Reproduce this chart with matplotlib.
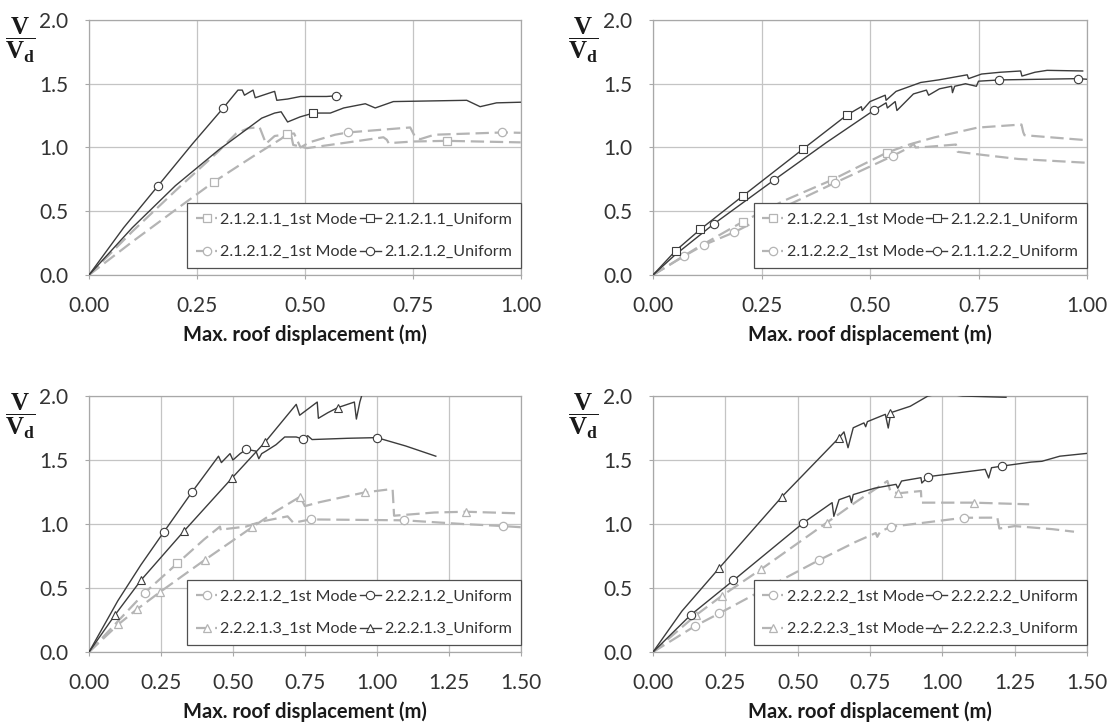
import matplotlib
matplotlib.use("Agg")
import matplotlib.pyplot as plt
from matplotlib.lines import Line2D
from matplotlib.ticker import FormatStrFormatter

# ---- panel 1 (top left) ----
P1_MODE_A_X = [0, 0.1, 0.2, 0.289, 0.38, 0.446, 0.459, 0.468, 0.473, 0.505, 0.6, 0.682, 0.69, 0.694, 0.752, 0.829, 1.0]
P1_MODE_A_Y = [0, 0.26, 0.51, 0.73, 0.93, 1.07, 1.108, 1.10, 1.02, 0.995, 1.04, 1.08, 1.06, 1.034, 1.047, 1.052, 1.04]
P1_MODE_A_MX = [0.289, 0.459, 0.829]
P1_MODE_A_MY = [0.73, 1.108, 1.052]

P1_UNIF_A_X = [0, 0.1, 0.2, 0.3, 0.4, 0.43, 0.445, 0.46, 0.489, 0.52, 0.559, 0.59, 0.64, 0.663, 0.705, 0.875, 0.906, 0.944, 1.0]
P1_UNIF_A_Y = [0, 0.37, 0.70, 0.98, 1.23, 1.27, 1.28, 1.20, 1.24, 1.27, 1.27, 1.31, 1.343, 1.31, 1.36, 1.37, 1.32, 1.35, 1.355]
P1_UNIF_A_MX = [0.52]
P1_UNIF_A_MY = [1.27]

P1_MODE_B_X = [0, 0.1, 0.2, 0.3, 0.341, 0.368, 0.395, 0.41, 0.43, 0.45, 0.475, 0.49, 0.51, 0.57, 0.6, 0.744, 0.755, 0.767, 0.8, 0.96, 1.0]
P1_MODE_B_Y = [0, 0.34, 0.66, 0.97, 1.11, 1.15, 1.16, 1.03, 1.09, 1.10, 1.11, 1.00, 1.04, 1.10, 1.118, 1.157, 1.086, 1.065, 1.10, 1.118, 1.115]
P1_MODE_B_MX = [0.6, 0.957]
P1_MODE_B_MY = [1.118, 1.118]

P1_UNIF_B_X = [0, 0.08, 0.16, 0.24, 0.311, 0.345, 0.355, 0.36, 0.375, 0.38, 0.385, 0.425, 0.43, 0.435, 0.46, 0.49, 0.55, 0.573, 0.585]
P1_UNIF_B_Y = [0, 0.37, 0.70, 1.03, 1.31, 1.45, 1.45, 1.41, 1.44, 1.45, 1.39, 1.435, 1.44, 1.37, 1.38, 1.40, 1.40, 1.405, 1.405]
P1_UNIF_B_MX = [0.16, 0.311, 0.573]
P1_UNIF_B_MY = [0.70, 1.31, 1.405]

P1_LABELS = ["2.1.2.1.1_1st Mode", "2.1.2.1.1_Uniform", "2.1.2.1.2_1st Mode", "2.1.2.1.2_Uniform"]

# ---- panel 2 (top right) ----
P2_MODE_A_X = [0, 0.1, 0.207, 0.3, 0.412, 0.539, 0.593, 0.647, 0.748, 0.849, 0.853, 0.856, 1.0]
P2_MODE_A_Y = [0, 0.21, 0.418, 0.58, 0.745, 0.96, 1.026, 1.078, 1.156, 1.18, 1.12, 1.096, 1.057]
P2_MODE_A_MX = [0.207, 0.412, 0.539]
P2_MODE_A_MY = [0.418, 0.745, 0.96]

P2_UNIF_A_X = [0, 0.052, 0.109, 0.207, 0.345, 0.447, 0.48, 0.482, 0.5, 0.535, 0.537, 0.56, 0.617, 0.658, 0.724, 0.727, 0.757, 0.8, 0.847, 0.85, 0.88, 0.908, 0.99]
P2_UNIF_A_Y = [0, 0.19, 0.358, 0.62, 0.986, 1.255, 1.32, 1.29, 1.36, 1.41, 1.37, 1.44, 1.51, 1.53, 1.57, 1.54, 1.576, 1.59, 1.60, 1.56, 1.59, 1.605, 1.60]
P2_UNIF_A_MX = [0.052, 0.109, 0.207, 0.345, 0.447]
P2_UNIF_A_MY = [0.19, 0.358, 0.62, 0.986, 1.255]

P2_MODE_B_X = [0, 0.072, 0.117, 0.187, 0.3, 0.42, 0.552, 0.593, 0.6, 0.605, 0.632, 0.698, 0.702, 0.764, 0.841, 1.0]
P2_MODE_B_Y = [0, 0.149, 0.235, 0.335, 0.53, 0.724, 0.933, 1.005, 1.03, 1.0, 1.005, 1.023, 0.966, 0.94, 0.91, 0.88]
P2_MODE_B_MX = [0.072, 0.117, 0.187, 0.42, 0.552]
P2_MODE_B_MY = [0.149, 0.235, 0.335, 0.724, 0.933]

P2_UNIF_B_X = [0, 0.05, 0.14, 0.279, 0.4, 0.51, 0.537, 0.54, 0.558, 0.562, 0.6, 0.63, 0.635, 0.66, 0.688, 0.69, 0.695, 0.72, 0.745, 0.75, 0.8, 0.98, 1.0]
P2_UNIF_B_Y = [0, 0.155, 0.40, 0.745, 1.04, 1.294, 1.35, 1.31, 1.36, 1.29, 1.42, 1.45, 1.41, 1.46, 1.48, 1.43, 1.48, 1.50, 1.48, 1.52, 1.53, 1.54, 1.535]
P2_UNIF_B_MX = [0.14, 0.279, 0.51, 0.798, 0.98]
P2_UNIF_B_MY = [0.40, 0.745, 1.294, 1.53, 1.54]

P2_LABELS = ["2.1.2.2.1_1st Mode", "2.1.2.2.1_Uniform", "2.1.2.2.2_1st Mode", "2.1.1.2.2_Uniform"]

# ---- panel 3 (bottom left) ----
P3_MODE_A_X = [0, 0.1, 0.194, 0.307, 0.4, 0.455, 0.458, 0.47, 0.545, 0.6, 0.69, 0.71, 0.77, 1.095, 1.3, 1.44, 1.5]
P3_MODE_A_Y = [0, 0.24, 0.464, 0.693, 0.88, 0.98, 0.95, 0.96, 0.98, 1.02, 1.06, 1.01, 1.036, 1.029, 1.0, 0.984, 0.975]
P3_MODE_A_MX = [0.194, 0.77, 1.095, 1.44]
P3_MODE_A_MY = [0.464, 1.036, 1.029, 0.984]
P3_STRAY_SQ_X = [0.307]
P3_STRAY_SQ_Y = [0.693]

P3_UNIF_A_X = [0, 0.05, 0.1, 0.18, 0.259, 0.357, 0.45, 0.46, 0.49, 0.5, 0.525, 0.547, 0.58, 0.59, 0.6, 0.615, 0.65, 0.68, 0.72, 0.743, 0.76, 0.775, 0.9, 1.0, 1.1, 1.205]
P3_UNIF_A_Y = [0, 0.2, 0.40, 0.68, 0.935, 1.247, 1.53, 1.48, 1.55, 1.50, 1.55, 1.583, 1.57, 1.51, 1.55, 1.57, 1.62, 1.68, 1.68, 1.664, 1.69, 1.66, 1.67, 1.675, 1.61, 1.53]
P3_UNIF_A_MX = [0.259, 0.357, 0.547, 0.743, 1.0]
P3_UNIF_A_MY = [0.935, 1.247, 1.583, 1.664, 1.675]

P3_MODE_B_X = [0, 0.102, 0.166, 0.248, 0.402, 0.568, 0.65, 0.734, 0.75, 0.8, 0.958, 1.04, 1.055, 1.06, 1.2, 1.31, 1.5]
P3_MODE_B_Y = [0, 0.216, 0.333, 0.471, 0.719, 0.977, 1.10, 1.214, 1.14, 1.17, 1.247, 1.27, 1.27, 1.065, 1.09, 1.096, 1.083]
P3_MODE_B_MX = [0.102, 0.166, 0.248, 0.402, 0.568, 0.734, 0.958, 1.31]
P3_MODE_B_MY = [0.216, 0.333, 0.471, 0.719, 0.977, 1.214, 1.247, 1.096]

P3_UNIF_B_X = [0, 0.09, 0.181, 0.33, 0.498, 0.613, 0.72, 0.732, 0.793, 0.797, 0.83, 0.864, 0.922, 0.929, 0.941, 0.955]
P3_UNIF_B_Y = [0, 0.289, 0.5625, 0.945, 1.362, 1.643, 1.935, 1.85, 1.953, 1.826, 1.87, 1.909, 1.953, 1.82, 1.953, 2.06]
P3_UNIF_B_MX = [0.09, 0.181, 0.33, 0.498, 0.613, 0.864]
P3_UNIF_B_MY = [0.289, 0.5625, 0.945, 1.362, 1.643, 1.909]

P3_LABELS = ["2.2.2.1.2_1st Mode", "2.2.2.1.2_Uniform", "2.2.2.1.3_1st Mode", "2.2.2.1.3_Uniform"]

# ---- panel 4 (bottom right) ----
P4_MODE_A_X = [0, 0.145, 0.229, 0.4, 0.572, 0.7, 0.77, 0.775, 0.785, 0.822, 0.9, 1.074, 1.19, 1.197, 1.25, 1.38, 1.455]
P4_MODE_A_Y = [0, 0.203, 0.302, 0.51, 0.716, 0.86, 0.93, 0.90, 0.94, 0.979, 1.0, 1.049, 1.05, 0.965, 0.984, 0.96, 0.94]
P4_MODE_A_MX = [0.145, 0.229, 0.572, 0.822, 1.074]
P4_MODE_A_MY = [0.203, 0.302, 0.716, 0.979, 1.049]

P4_UNIF_A_X = [0, 0.13, 0.278, 0.52, 0.619, 0.625, 0.643, 0.68, 0.686, 0.692, 0.766, 0.84, 0.846, 0.859, 0.926, 0.929, 0.951, 1.148, 1.16, 1.17, 1.207, 1.307, 1.344, 1.406, 1.5]
P4_UNIF_A_Y = [0, 0.289, 0.56, 1.01, 1.167, 1.06, 1.19, 1.22, 1.167, 1.23, 1.28, 1.31, 1.28, 1.336, 1.362, 1.32, 1.37, 1.427, 1.36, 1.44, 1.453, 1.484, 1.49, 1.53, 1.552]
P4_UNIF_A_MX = [0.13, 0.278, 0.52, 0.951, 1.207]
P4_UNIF_A_MY = [0.289, 0.56, 1.01, 1.37, 1.453]

P4_MODE_B_X = [0, 0.149, 0.237, 0.373, 0.6, 0.7, 0.81, 0.82, 0.846, 0.926, 0.928, 1.108, 1.3]
P4_MODE_B_Y = [0, 0.289, 0.4375, 0.646, 1.01, 1.17, 1.336, 1.258, 1.24, 1.258, 1.167, 1.167, 1.154]
P4_MODE_B_MX = [0.149, 0.237, 0.373, 0.6, 0.846, 1.108]
P4_MODE_B_MY = [0.289, 0.4375, 0.646, 1.01, 1.24, 1.167]

P4_UNIF_B_X = [0, 0.1, 0.228, 0.446, 0.643, 0.66, 0.674, 0.692, 0.729, 0.735, 0.741, 0.803, 0.813, 0.822, 0.889, 0.95, 1.0, 1.07, 1.22]
P4_UNIF_B_Y = [0, 0.32, 0.654, 1.214, 1.674, 1.72, 1.596, 1.752, 1.79, 1.76, 1.80, 1.857, 1.75, 1.87, 1.92, 2.0, 2.02, 2.0, 1.99]
P4_UNIF_B_MX = [0.228, 0.446, 0.643, 0.819]
P4_UNIF_B_MY = [0.654, 1.214, 1.674, 1.87]

P4_LABELS = ["2.2.2.2.2_1st Mode", "2.2.2.2.2_Uniform", "2.2.2.2.3_1st Mode", "2.2.2.2.3_Uniform"]

XTICKS_SHORT = [0.0, 0.25, 0.5, 0.75, 1.0]
XTICKS_LONG = [0.0, 0.25, 0.5, 0.75, 1.0, 1.25, 1.5]
YTICKS = [0.0, 0.5, 1.0, 1.5, 2.0]

DARK = "#3c3c3c"
GRAY = "#b4b4b4"
GRID = "#c4c4c4"

plt.rcParams.update({
    "font.family": ["Lato", "DejaVu Sans"],
    "mathtext.fontset": "custom",
    "mathtext.bf": "Liberation Serif:bold",
    "mathtext.rm": "Liberation Serif",
    "mathtext.it": "Liberation Serif:italic",
})


def style(kind, marker):
    if kind == "mode":
        return dict(color=GRAY, lw=1.6, ls=(0, (6, 2.6)), marker=marker,
                    mfc="white", mec=GRAY, mew=0.9, ms=6)
    return dict(color=DARK, lw=1.0, ls="-", marker=marker,
                mfc="white", mec=DARK, mew=0.8, ms=6)


def draw_panel(ax, series, labels, xticks, extra=None):
    handles = []
    # gray 1st-mode curves underneath, dark uniform curves on top
    for kind in ("mode", "unif"):
        for (x, y, mx, my, k, marker) in series:
            if k != kind:
                continue
            st = style(k, marker)
            ax.plot(x, y, color=st["color"], lw=st["lw"], ls=st["ls"], zorder=3 if k == "unif" else 2)
            ax.plot(mx, my, ls="none", marker=marker, ms=st["ms"], mfc="white",
                    mec=st["mec"], mew=st["mew"], zorder=4)
    if extra is not None:
        ex, ey, em = extra
        ax.plot(ex, ey, ls="none", marker=em, ms=6, mfc="white", mec=GRAY, mew=0.9, zorder=4)

    for (x, y, mx, my, k, marker), lab in zip(series, labels):
        st = style(k, marker)
        handles.append(Line2D([], [], label=lab, **st))
    # ncol=2 fills column-wise: reorder so rows read A, B
    order = [0, 2, 1, 3]
    leg = ax.legend([handles[i] for i in order], [labels[i] for i in order],
                    ncol=2, loc="lower right", bbox_to_anchor=(1.0, 0.027),
                    borderaxespad=0, fontsize=11.6, frameon=True, fancybox=False,
                    handlelength=1.3, handletextpad=0.2, columnspacing=0.15,
                    labelspacing=1.15, borderpad=0.55)
    leg.get_frame().set_edgecolor("#505050")
    leg.get_frame().set_linewidth(0.9)
    leg.get_frame().set_alpha(1)
    leg.set_zorder(5)
    for t in leg.get_texts():
        t.set_color("#333333")

    ax.set_xlim(xticks[0], xticks[-1])
    ax.set_ylim(0, 2.0)
    ax.set_xticks(xticks)
    ax.set_yticks(YTICKS)
    ax.xaxis.set_major_formatter(FormatStrFormatter("%.2f"))
    ax.yaxis.set_major_formatter(FormatStrFormatter("%.1f"))
    ax.grid(True, color=GRID, lw=0.9)
    ax.set_axisbelow(True)
    for s in ax.spines.values():
        s.set_color("#a8a8a8")
        s.set_linewidth(0.9)
    ax.tick_params(direction="out", length=3, color="#a8a8a8", labelsize=15,
                   labelcolor="#333333", pad=12)
    ax.set_xlabel("Max. roof displacement (m)", fontsize=14.5, fontweight="bold",
                  labelpad=6, color="#1a1a1a")
    ax.text(-0.16, 0.92, r"$\mathbf{\dfrac{V}{V_d}}$", transform=ax.transAxes,
            ha="center", va="center", fontsize=18, color="#1a1a1a")


fig = plt.figure(figsize=(11.1, 7.24), dpi=100)
ax1 = fig.add_axes([0.0802, 0.6202, 0.3889, 0.3522])
ax2 = fig.add_axes([0.5883, 0.6202, 0.3910, 0.3522])
ax3 = fig.add_axes([0.0802, 0.0994, 0.3889, 0.3536])
ax4 = fig.add_axes([0.5883, 0.0994, 0.3910, 0.3536])

draw_panel(ax1, [
    (P1_MODE_A_X, P1_MODE_A_Y, P1_MODE_A_MX, P1_MODE_A_MY, "mode", "s"),
    (P1_UNIF_A_X, P1_UNIF_A_Y, P1_UNIF_A_MX, P1_UNIF_A_MY, "unif", "s"),
    (P1_MODE_B_X, P1_MODE_B_Y, P1_MODE_B_MX, P1_MODE_B_MY, "mode", "o"),
    (P1_UNIF_B_X, P1_UNIF_B_Y, P1_UNIF_B_MX, P1_UNIF_B_MY, "unif", "o"),
], P1_LABELS, XTICKS_SHORT)

draw_panel(ax2, [
    (P2_MODE_A_X, P2_MODE_A_Y, P2_MODE_A_MX, P2_MODE_A_MY, "mode", "s"),
    (P2_UNIF_A_X, P2_UNIF_A_Y, P2_UNIF_A_MX, P2_UNIF_A_MY, "unif", "s"),
    (P2_MODE_B_X, P2_MODE_B_Y, P2_MODE_B_MX, P2_MODE_B_MY, "mode", "o"),
    (P2_UNIF_B_X, P2_UNIF_B_Y, P2_UNIF_B_MX, P2_UNIF_B_MY, "unif", "o"),
], P2_LABELS, XTICKS_SHORT)

draw_panel(ax3, [
    (P3_MODE_A_X, P3_MODE_A_Y, P3_MODE_A_MX, P3_MODE_A_MY, "mode", "o"),
    (P3_UNIF_A_X, P3_UNIF_A_Y, P3_UNIF_A_MX, P3_UNIF_A_MY, "unif", "o"),
    (P3_MODE_B_X, P3_MODE_B_Y, P3_MODE_B_MX, P3_MODE_B_MY, "mode", "^"),
    (P3_UNIF_B_X, P3_UNIF_B_Y, P3_UNIF_B_MX, P3_UNIF_B_MY, "unif", "^"),
], P3_LABELS, XTICKS_LONG, extra=(P3_STRAY_SQ_X, P3_STRAY_SQ_Y, "s"))

draw_panel(ax4, [
    (P4_MODE_A_X, P4_MODE_A_Y, P4_MODE_A_MX, P4_MODE_A_MY, "mode", "o"),
    (P4_UNIF_A_X, P4_UNIF_A_Y, P4_UNIF_A_MX, P4_UNIF_A_MY, "unif", "o"),
    (P4_MODE_B_X, P4_MODE_B_Y, P4_MODE_B_MX, P4_MODE_B_MY, "mode", "^"),
    (P4_UNIF_B_X, P4_UNIF_B_Y, P4_UNIF_B_MX, P4_UNIF_B_MY, "unif", "^"),
], P4_LABELS, XTICKS_LONG)

fig.savefig("out.png", dpi=100)
